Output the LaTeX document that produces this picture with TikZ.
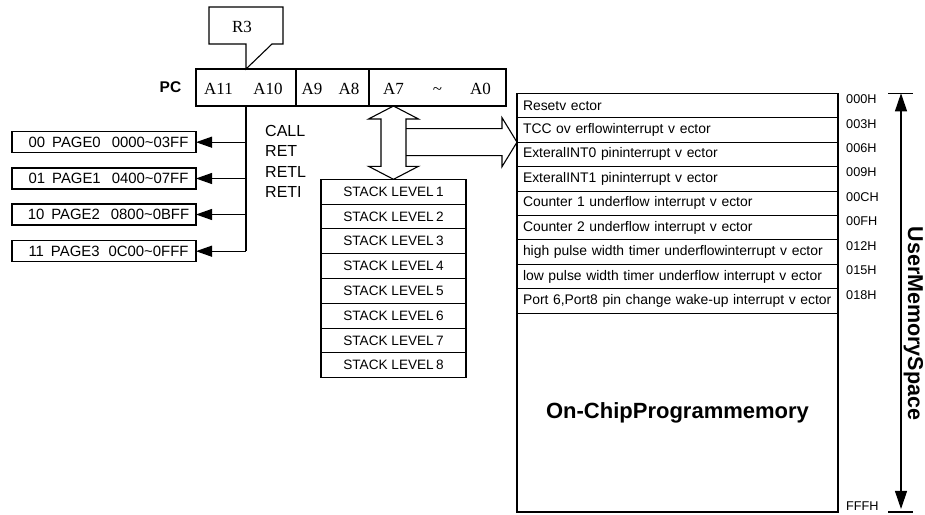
\documentclass[tikz,border=0pt]{standalone}
\usepackage{fontspec}
\setmainfont{Liberation Sans}
\newfontfamily\regfont{Liberation Serif}
\usetikzlibrary{positioning,calc,arrows.meta}
\tikzset{
  box/.style={draw, line width=1.1pt, inner sep=0pt, outer sep=0pt},
  pcfield/.style={box, minimum height=37pt},
  pagebox/.style={box, minimum width=184pt, minimum height=21pt, font=\fontsize{14.9}{17}\selectfont},
  stackbox/.style={box, minimum width=145pt, minimum height=24.8pt, font=\fontsize{13.6}{16}\selectfont},
  vecbox/.style={box, minimum width=321pt, minimum height=24.44pt, text width=309pt, align=left, inner xsep=6pt, font=\fontsize{13.9}{16}\selectfont},
  regtext/.style={anchor=base, inner sep=0pt, font=\regfont\fontsize{17}{20}\selectfont},
  addr/.style={anchor=west, inner sep=0pt, font=\fontsize{12.7}{15}\selectfont},
  optext/.style={anchor=base west, inner sep=0pt, font=\fontsize{16}{19}\selectfont},
  fat/.style={draw, line width=1.1pt, line join=miter},
  pagearrow/.style={line width=1.1pt, -{Triangle[length=16pt,width=11pt]}},
  axisarrow/.style={line width=1.1pt, {Triangle[length=18pt,width=12pt]}-{Triangle[length=18pt,width=12pt]}},
}
\begin{document}
\begin{tikzpicture}[x=1pt,y=-1pt]
  \useasboundingbox (0,0) rectangle (925,514);
  % program counter
  \node[pcfield, minimum width=100pt] (fa) at (246,87.5) {};
  \node[pcfield, minimum width=73pt, right=0pt of fa] (fb) {};
  \node[pcfield, minimum width=137pt, right=0pt of fb] (fc) {};
  \node[anchor=base, inner sep=0pt, font=\bfseries\fontsize{15.5}{18}\selectfont] (pc) at (170.5,92.5) {PC};
  \foreach \n/\t/\x in {a11/A11/218.5, a10/A10/268, a9/A9/312, a8/A8/349,
                        a7/A7/393.5, tl/\textasciitilde/437.5, a0/A0/480.5}
    \node[regtext] (\n) at (\x,94.3) {\t};
  % R3 callout
  \coordinate (tip) at (fa.north);
  \draw[line width=1.1pt, line join=miter] (tip) -- ($(tip)+(0,-25)$) -- ($(tip)+(-37,-25)$)
    -- ($(tip)+(-37,-62)$) -- ($(tip)+(37,-62)$) -- ($(tip)+(37,-25)$) -- ($(tip)+(26,-25)$) -- cycle;
  \node[regtext] (r3) at ($(tip)+(-4,-36.3)$) {R3};
  % pages
  \foreach \i/\y/\t in {0/142.2/00\hspace{7pt}PAGE0\hspace{11pt}0000\textasciitilde 03FF,
                        1/178.5/01\hspace{7pt}PAGE1\hspace{11pt}0400\textasciitilde 07FF,
                        2/214.5/10\hspace{7pt}PAGE2\hspace{11pt}0800\textasciitilde 0BFF,
                        3/251.2/11\hspace{7pt}PAGE3\hspace{9pt}0C00\textasciitilde 0FFF}
    \node[pagebox] (page\i) at (104,\y) {\hspace*{9pt}\t};
  \draw[line width=1.1pt] (fa.south) -- (fa.south |- page3.east);
  \foreach \i in {0,...,3}
    \draw[pagearrow] (fa.south |- page\i.east) -- (page\i.east);
  \foreach \w [count=\k] in {CALL,RET,RETL,RETI}
    \node[optext] (op\k) at (265,115.5+20.5*\k) {\w};
  % stack
  \node[stackbox] (stack1) at (393.5,191.7) {STACK LEVEL\,1};
  \foreach \i [remember=\i as \j (initially 1)] in {2,...,8}
    \node[stackbox, below=0pt of stack\j] (stack\i) {STACK LEVEL\,\i};
  % program memory
  \node[vecbox] (vec1) at (677.5,105.52) {\mbox{Resetv ector}};
  \foreach \i/\t [remember=\i as \j (initially 1)] in {
      2/TCC ov erflowinterrupt v ector,
      3/ExteralINT0 pininterrupt v ector,
      4/ExteralINT1 pininterrupt v ector,
      5/Counter 1 underflow interrupt v ector,
      6/Counter 2 underflow interrupt v ector,
      7/high pulse width timer underflowinterrupt v ector,
      8/low pulse width timer underflow interrupt v ector,
      9/{Port 6,Port8 pin change wake-up interrupt v ector}}
    \node[vecbox, below=0pt of vec\j] (vec\i) {\mbox{\t}};
  \node[box, minimum width=321pt, minimum height=198.7pt, below=0pt of vec9,
        font=\bfseries\fontsize{22}{26}\selectfont] (onchip) {On-ChipProgrammemory};
  \foreach \i/\a in {1/000H, 2/003H, 3/006H, 4/009H, 5/00CH, 6/00FH, 7/012H, 8/015H, 9/018H}
    \node[addr] (ad\i) at ($(vec\i.north east)+(8,6)$) {\a};
  \node[addr] (adend) at ($(onchip.south east)+(8,-6)$) {FFFH};
  % user memory space
  \coordinate (axt) at ($(vec1.north east)+(63,0)$);
  \coordinate (axb) at ($(onchip.south east)+(63,0)$);
  \draw[line width=1.1pt] ($(axt)+(-13,0)$) -- ($(axt)+(12,0)$);
  \draw[line width=1.1pt] ($(axb)+(-13,0)$) -- ($(axb)+(12,0)$);
  \draw[axisarrow, shorten >=3pt] (axt) -- (axb);
  \node[rotate=-90, anchor=base, inner sep=0pt, font=\bfseries\fontsize{21.5}{24}\selectfont] (space) at (908,323.5) {UserMemorySpace};
  % data path arrows
  \coordinate (tipu) at (stack1.north |- fc.south);
  \coordinate (ht) at (vec2.south west);
  \coordinate (hb) at ($(tipu)+(12.5,0)$);
  \coordinate (hl) at (hb |- ht);
  \draw[fat] ($(hl)+(0,-13.5)$) -- ($(ht)+(-15,-13.5)$) -- ($(ht)+(-15,-24.5)$) -- (ht)
    -- ($(ht)+(-15,24.5)$) -- ($(ht)+(-15,13.5)$) -- ($(hl)+(0,13.5)$);
  \draw[fat] (tipu) -- ($(tipu)+(25,13)$) -- ($(tipu)+(12.5,13)$) -- ($(stack1.north)+(12.5,-13)$)
    -- ($(stack1.north)+(25,-13)$) -- (stack1.north) -- ($(stack1.north)+(-25,-13)$)
    -- ($(stack1.north)+(-12.5,-13)$) -- ($(tipu)+(-12.5,13)$) -- ($(tipu)+(-25,13)$) -- cycle;
\end{tikzpicture}
\end{document}
